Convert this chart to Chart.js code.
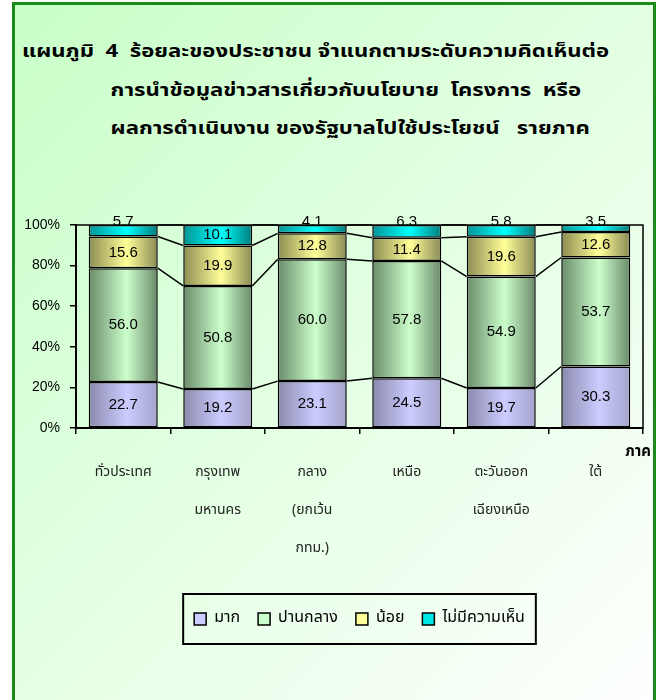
<!DOCTYPE html>
<html>
<head>
<meta charset="utf-8">
<script src="https://cdn.jsdelivr.net/npm/chart.js@4.4.1/dist/chart.umd.min.js"></script>
<style>
body { margin: 0; width: 657px; height: 700px; overflow: hidden; background: #fff; }
#frame {
    position: absolute; left: 12px; top: 2px; width: 638px; height: 720px;
    border: 3px solid #1a8a1a; border-bottom: none;
    background: linear-gradient(135deg, #c8ffc8 0%, #ffffff 100%);
}
#title {
    position: absolute; left: 22px; top: 33px;
    font-family: Tahoma, "Noto Sans Thai", Loma, Garuda, "DejaVu Sans", sans-serif;
    font-weight: bold; font-size: 18px; line-height: 38.5px; color: #000;
    transform: scaleX(1.23); transform-origin: left top;
}
#title .indent { padding-left: 72px; }
canvas { position: absolute; left: 0; top: 0; }
</style>
</head>
<body>
<div id="frame"></div>
<div id="title">
    <div>แผนภูมิ &nbsp;4 &nbsp;ร้อยละของประชาชน จำแนกตามระดับความคิดเห็นต่อ</div>
    <div class="indent">การนำข้อมูลข่าวสารเกี่ยวกับนโยบาย &nbsp;โครงการ &nbsp;หรือ</div>
    <div class="indent">ผลการดำเนินงาน ของรัฐบาลไปใช้ประโยชน์ &nbsp;&nbsp;รายภาค</div>
</div>
<canvas id="chart" width="657" height="700"></canvas>
<script>
// Regions (x axis), one array per line of the label.
var categories = [
    ['ทั่วประเทศ'],
    ['กรุงเทพ', 'มหานคร'],
    ['กลาง', '(ยกเว้น', 'กทม.)'],
    ['เหนือ'],
    ['ตะวันออก', 'เฉียงเหนือ'],
    ['ใต้']
];
var seriesNames = ['มาก', 'ปานกลาง', 'น้อย', 'ไม่มีความเห็น'];
var muchValues = [22.7, 19.2, 23.1, 24.5, 19.7, 30.3];
var mediumValues = [56.0, 50.8, 60.0, 57.8, 54.9, 53.7];
var littleValues = [15.6, 19.9, 12.8, 11.4, 19.6, 12.6];
var noOpinionValues = [5.7, 10.1, 4.1, 6.3, 5.8, 3.5];
var yTicks = [0, 20, 40, 60, 80, 100];

var thaiFont = 'Tahoma, "Noto Sans Thai", Loma, Garuda, "DejaVu Sans", sans-serif';
var numFont = '"Liberation Sans", Arial, sans-serif';
var BAR_PCT = 0.73;

// dark edge, light middle, dark edge
var shades = [
    ['#8a8aae', '#ccccff', '#a4a4cc'],
    ['#6a8c6a', '#ccffcc', '#6a8a6a'],
    ['#8c8c52', '#ffff99', '#8a8a56'],
    ['#009494', '#00ffff', '#007c7c']
];
var legendColors = ['#ccccff', '#ccffcc', '#ffff99', '#00e8e8'];

// Horizontal gradient across each bar.
function barFill(stops) {
    return function (context) {
        var chart = context.chart;
        var xs = chart.scales.x;
        if (!chart.chartArea || !xs || context.type !== 'data') return stops[1];
        var cx = xs.getPixelForValue(context.dataIndex);
        var half = xs.width / categories.length * BAR_PCT / 2;
        var g = chart.ctx.createLinearGradient(cx - half, 0, cx + half, 0);
        g.addColorStop(0, stops[0]);
        g.addColorStop(0.55, stops[1]);
        g.addColorStop(1, stops[2]);
        return g;
    };
}

var seriesValues = [muchValues, mediumValues, littleValues, noOpinionValues];
var datasets = seriesValues.map(function (vals, i) {
    return {
        label: seriesNames[i],
        data: vals,
        backgroundColor: barFill(shades[i]),
        borderColor: '#000',
        borderWidth: 1.5,
        borderSkipped: false,
        barPercentage: BAR_PCT,
        categoryPercentage: 1
    };
});

// Plot box, series lines, value labels, axis title and legend frame.
var extras = {
    id: 'extras',
    beforeDatasetsDraw: function (chart) {
        var a = chart.chartArea, c = chart.ctx;
        c.save();
        c.strokeStyle = '#000';
        c.lineWidth = 1.5;
        c.strokeRect(a.left, a.top, a.right - a.left, a.bottom - a.top);
        c.restore();
    },
    afterDatasetsDraw: function (chart) {
        var c = chart.ctx;
        c.save();
        c.strokeStyle = '#000';
        c.lineWidth = 1.5;
        chart.data.datasets.forEach(function (ds, d) {
            var bars = chart.getDatasetMeta(d).data;
            for (let i = 0; i < bars.length - 1; i++) {
                c.beginPath();
                c.moveTo(bars[i].x + bars[i].width / 2, bars[i].y);
                c.lineTo(bars[i + 1].x - bars[i + 1].width / 2, bars[i + 1].y);
                c.stroke();
            }
        });
        c.fillStyle = '#000';
        c.font = '15px ' + numFont;
        c.textAlign = 'center';
        chart.data.datasets.forEach(function (ds, d) {
            chart.getDatasetMeta(d).data.forEach(function (bar, i) {
                var v = ds.data[i];
                if (d === 3 && v < 8) {
                    c.textBaseline = 'alphabetic';
                    c.fillText(v.toFixed(1), bar.x, bar.y + 1);
                } else {
                    c.textBaseline = 'middle';
                    c.fillText(v.toFixed(1), bar.x, (bar.y + bar.base) / 2);
                }
            });
        });
        c.font = 'bold 15px ' + thaiFont;
        c.textAlign = 'right';
        c.textBaseline = 'middle';
        c.fillText('ภาค', 651, 453);
        c.restore();
    },
    afterDraw: function (chart) {
        var boxes = chart.legend.legendHitBoxes;
        if (!boxes || !boxes.length) return;
        var first = boxes[0], last = boxes[boxes.length - 1];
        var mid = first.top + first.height / 2;
        var c = chart.ctx;
        c.save();
        c.strokeStyle = '#000';
        c.lineWidth = 2;
        c.strokeRect(first.left - 11, mid - 25, last.left + last.width - first.left + 22, 50);
        c.restore();
    }
};

new Chart(document.getElementById('chart'), {
    type: 'bar',
    data: { labels: categories, datasets: datasets },
    options: {
        responsive: false,
        animation: false,
        events: [],
        layout: { padding: { left: 0, right: 14, top: 225, bottom: 63 } },
        scales: {
            x: {
                stacked: true,
                offset: true,
                grid: { display: true, drawOnChartArea: false, offset: true, tickLength: 6, color: '#000', lineWidth: 1.5 },
                border: { color: '#000', width: 2 },
                ticks: {
                    autoSkip: false, maxRotation: 0, padding: 20, color: '#222',
                    font: { family: thaiFont, size: 14, lineHeight: '38px' }
                },
                afterFit: function (s) { s.height = 165; }
            },
            y: {
                stacked: true,
                min: 0,
                max: 100,
                afterBuildTicks: function (s) { s.ticks = yTicks.map(function (v) { return { value: v }; }); },
                grid: { display: true, drawOnChartArea: false, tickLength: 6, color: '#000', lineWidth: 1.5 },
                border: { color: '#000', width: 2 },
                ticks: {
                    padding: 10, color: '#000',
                    font: { family: numFont, size: 14 },
                    callback: function (v) { return v + '%'; }
                },
                afterFit: function (s) { s.width = 76; }
            }
        },
        plugins: {
            tooltip: { enabled: false },
            legend: {
                position: 'bottom',
                fullSize: false,
                labels: {
                    boxWidth: 12, boxHeight: 12, padding: 18, color: '#222',
                    font: { family: thaiFont, size: 16 },
                    generateLabels: function (chart) {
                        return seriesNames.map(function (name, i) {
                            return { text: name, fillStyle: legendColors[i], strokeStyle: '#000', lineWidth: 1.5, datasetIndex: i };
                        });
                    }
                }
            }
        }
    },
    plugins: [extras]
});
</script>
</body>
</html>
